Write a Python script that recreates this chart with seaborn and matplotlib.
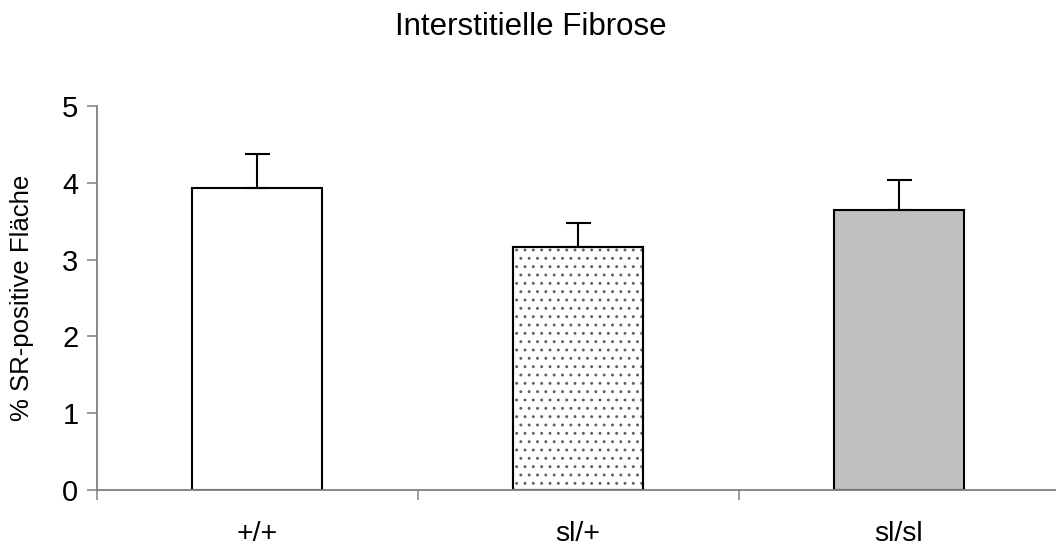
import matplotlib
matplotlib.use("Agg")
import matplotlib.pyplot as plt
from matplotlib.patches import Rectangle
import seaborn as sns
import pandas as pd

# Group means and standard errors (% Sirius-red positive area)
groups = ["+/+", "sl/+", "sl/sl"]
means = [3.93, 3.17, 3.64]
sems = [0.45, 0.31, 0.39]
bar_colors = ["#ffffff", "#ffffff", "#c0c0c0"]
bar_hatches = ["", "..", ""]

title = "Interstitielle Fibrose"
ylabel = "% SR-positive Fläche"
yticks = [0, 1, 2, 3, 4, 5]

sns.set_theme(style="white")
plt.rcParams["font.family"] = ["Liberation Sans", "DejaVu Sans"]
plt.rcParams["hatch.linewidth"] = 0.9
for key in ["text.color", "axes.labelcolor", "xtick.labelcolor", "ytick.labelcolor"]:
    plt.rcParams[key] = "black"

W, H = 1056, 549
fig = plt.figure(figsize=(W / 100, H / 100), dpi=100)
ax = fig.add_axes([96.5 / W, 59 / H, 963 / W, 384 / H])

df = pd.DataFrame({"group": groups, "mean": means})
sns.barplot(data=df, x="group", y="mean", hue="group", palette=bar_colors,
            order=groups, hue_order=groups, legend=False, errorbar=None,
            width=0.407, edgecolor="black", linewidth=1.5, ax=ax, zorder=2)

# Dotted fill drawn as a grey hatch layer over the bar, keeping the black outline
for patch, h in list(zip(ax.patches, bar_hatches)):
    if h:
        ax.add_patch(Rectangle(patch.get_xy(), patch.get_width(),
                               patch.get_height(), fill=False, hatch=h,
                               edgecolor="#606060", linewidth=0, zorder=2.1))
        outline = Rectangle(patch.get_xy(), patch.get_width(),
                            patch.get_height(), fill=False,
                            edgecolor="black", linewidth=1.5, zorder=2.2)
        ax.add_patch(outline)

# One-sided (upper) SEM whiskers
ax.errorbar(range(len(groups)), means, yerr=[[0] * len(sems), sems],
            fmt="none", ecolor="black", elinewidth=1.5, capsize=9,
            capthick=1.5, zorder=3)

ax.set_xlim(-0.5, 2.5)
ax.set_ylim(0, 5)
ax.set_yticks(yticks)
ax.set_xticks(range(len(groups)))
ax.set_xticklabels(groups)
ax.set_xticks([-0.5, 0.5, 1.5, 2.5], minor=True)
ax.set_xlabel("")
ax.set_ylabel("")

for side in ["top", "right"]:
    ax.spines[side].set_visible(False)
for side in ["left", "bottom"]:
    ax.spines[side].set_color("#808080")
    ax.spines[side].set_linewidth(1.3)

ax.tick_params(axis="y", which="major", direction="out", length=7,
               width=1.1, color="#808080", pad=6, labelsize=21,
               left=True)
ax.tick_params(axis="x", which="major", length=0, pad=22, labelsize=20.5,
               bottom=True)
ax.tick_params(axis="x", which="minor", direction="out", length=7,
               width=1.1, color="#808080", bottom=True)

fig.text(0.503, 1 - 35 / H, title, ha="center", va="baseline", fontsize=22.5)
fig.text(22 / W, 1 - 298 / H, ylabel, rotation=90, ha="center",
         va="center", fontsize=18.5)

fig.savefig("out.png", dpi=100, facecolor="white")
